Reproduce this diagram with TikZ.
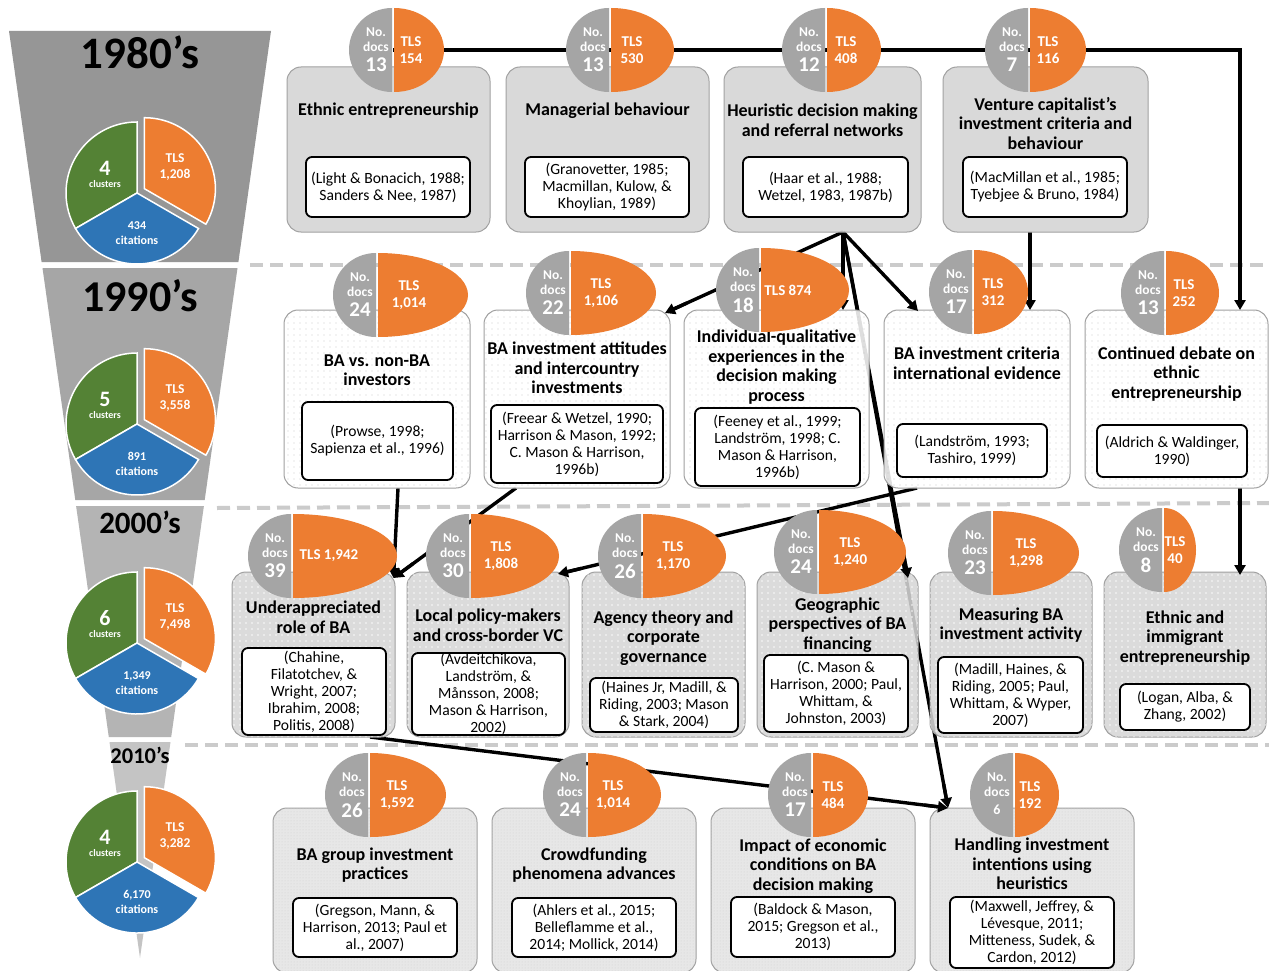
\documentclass[tikz,border=0pt]{standalone}
\usepackage{fontspec}
\setmainfont{Carlito}
\usetikzlibrary{calc,arrows.meta,patterns.meta}
\pgfdeclarelayer{bg}
\pgfdeclarelayer{lines}
\pgfdeclarelayer{tips}
\pgfdeclarelayer{badges}
\pgfsetlayers{bg,lines,main,tips,badges}
\definecolor{borange}{HTML}{ED7D31}
\definecolor{bgray}{HTML}{A5A5A5}
\definecolor{pgreen}{HTML}{548235}
\definecolor{pblue}{HTML}{2E75B6}
\definecolor{funA}{HTML}{969696}
\definecolor{funB}{HTML}{A6A6A6}
\definecolor{funC}{HTML}{B4B4B4}
\definecolor{funD}{HTML}{C4C4C4}
\definecolor{sepcol}{HTML}{CBCBCB}
\definecolor{boxedge}{HTML}{A0A0A0}
\definecolor{rowone}{HTML}{D6D6D6}
\definecolor{rowthree}{HTML}{D6D6D6}
\definecolor{rowfour}{HTML}{E4E4E4}
\definecolor{dotgray}{HTML}{C4C4C4}
\definecolor{dotfour}{HTML}{CDCDCD}
\definecolor{dotone}{HTML}{C8C8C8}

\newcommand\badge[8]{%
  \coordinate (#1) at (#2,#3);
  \fill[bgray] ($(#1)+(-1,-42)$) arc[start angle=90,end angle=270,x radius=43pt,y radius=42pt] -- cycle;
  \fill[borange] ($(#1)+(1,-42)$) arc[start angle=90,end angle=-90,x radius=#4pt,y radius=42pt] -- cycle;
  \node[bsmall] (#1-no) at ($(#1)+(-17,-18)$) {No.};
  \node[bsmall] (#1-docs) at ($(#1)+(-17,-3)$) {docs};
  \node[bnum, font=\bfseries\fontsize{#8}{#8}\selectfont] (#1-n) at ($(#1)+(-17,15)$) {#5};
  \node[btls] (#1-tls) at ($(#1)+(#7,0)$) {#6};
}
\newcommand\pie[5]{%
  \coordinate (#1) at (137,#2);
  \fill[pgreen,draw=white,line width=1.5pt] (#1) -- ($(#1)+(0,-71)$) arc[start angle=90,end angle=210,radius=71pt] -- cycle;
  \fill[pblue,draw=white,line width=1.5pt] (#1) -- ($(#1)+(-61.49,35.5)$) arc[start angle=210,end angle=330,radius=71pt] -- cycle;
  \coordinate (#1-o) at ($(#1)+(7.4,-4.3)$);
  \fill[borange,draw=white,line width=1.5pt] (#1-o) -- ($(#1-o)+(61.49,35.5)$) arc[start angle=-30,end angle=90,radius=71pt] -- cycle;
  \node[pnum] (#1-a) at ($(#1)+(-32,-25)$) {#3};
  \node[psm] (#1-b) at ($(#1)+(-32,-9)$) {clusters};
  \node[ptls] (#1-c) at ($(#1)+(38,-26)$) {TLS\\#4};
  \node[pcit] (#1-d) at ($(#1)+(0,40)$) {#5\\citations};
}

\begin{document}
\begin{tikzpicture}[x=1pt,y=-1pt,
  every node/.style={inner sep=0pt,outer sep=0pt},
  bsmall/.style={text=white,font=\bfseries\fontsize{13.5}{14}\selectfont},
  bnum/.style={text=white},
  btls/.style={text=white,font=\bfseries\fontsize{15}{17}\selectfont,align=center},
  pnum/.style={text=white,font=\bfseries\fontsize{22}{22}\selectfont},
  psm/.style={text=white,font=\bfseries\fontsize{10}{10}\selectfont},
  ptls/.style={text=white,font=\bfseries\fontsize{13.5}{16}\selectfont,align=center},
  pcit/.style={text=white,font=\bfseries\fontsize{12}{15}\selectfont,align=center},
  decade/.style={text=black,font=\bfseries\fontsize{#1}{#1}\selectfont},
  sep/.style={sepcol,line width=4pt,dash pattern=on 13pt off 7pt},
  boxbase/.style={draw=boxedge,line width=1pt,rounded corners=14pt,fill opacity=0.87},
  boxone/.style={boxbase,fill=rowone,postaction={pattern={Dots[distance=2pt,radius=0.4pt]},pattern color=dotone}},
  boxtwo/.style={boxbase,fill=white,postaction={pattern={Dots[distance=6pt,radius=0.7pt]},pattern color=dotgray}},
  boxthree/.style={boxbase,fill=rowthree,postaction={pattern={Dots[distance=6pt,radius=0.8pt]},pattern color=white}},
  boxfour/.style={boxbase,fill=rowfour,postaction={pattern={Dots[distance=3pt,radius=0.5pt]},pattern color=dotfour}},
  ttl/.style={text=black,font=\bfseries\fontsize{18}{19.5}\selectfont,align=center},
  refb/.style={draw=black,line width=1.8pt,rounded corners=6pt,fill=white,text=black,font=\fontsize{15.6}{17}\selectfont,align=center},
  conn/.style={line width=3.4pt,black},
  connbg/.style={conn,shorten >=9pt},
  conntip/.style={conn,-{Triangle[length=10pt,width=11pt]}}
]
\useasboundingbox (0,0) rectangle (1269,971);
\begin{pgfonlayer}{bg}
\fill[white] (0,0) rectangle (1269,971);
\fill[funA] (9,31) -- (271,31) -- (238.4,262) -- (41.6,262) -- cycle;
\fill[funB] (42.5,268) -- (237.5,268) -- (204.7,500) -- (75.3,500) -- cycle;
\fill[funC] (76.1,506) -- (203.9,506) -- (171.2,737) -- (108.8,737) -- cycle;
\fill[funD] (109.5,742) -- (170.5,742) -- (140,958) -- cycle;
\draw[sep] (250,265) -- (1269,265);
\draw[sep] (217,508) -- (1269,503);
\draw[sep] (185,745) -- (1269,745);
\end{pgfonlayer}

% decades and pies
\node[decade=45] (d80) at (140,52) {1980’s};
\node[decade=44] (d90) at (140,296) {1990’s};
\node[decade=31] (d00) at (140,522) {2000’s};
\node[decade=22.5] (d10) at (140,755) {2010’s};
\pie{pA}{193}{4}{1,208}{434}
\pie{pB}{424}{5}{3,558}{891}
\pie{pC}{643}{6}{7,498}{1,349}
\pie{pD}{862}{4}{3,282}{6,170}

% row 1
\node[boxone,minimum width=203pt,minimum height=165pt] (cA) at (388.5,149.5) {};
\node[boxone,minimum width=203pt,minimum height=165pt] (cB) at (607.5,149.5) {};
\node[boxone,minimum width=197pt,minimum height=165pt] (cC) at (822.5,149.5) {};
\node[boxone,minimum width=205pt,minimum height=165pt] (cD) at (1045.5,149.5) {};
\node[ttl] (hA) at (388.5,111) {Ethnic entrepreneurship};
\node[ttl] (hB) at (607.5,111) {Managerial behaviour};
\node[ttl] (hC) at (822.5,120) {Heuristic decision making\\and referral networks};
\node[ttl] (hD) at (1045.5,123.5) {Venture capitalist’s\\investment criteria and\\behaviour};
\node[refb,minimum width=164pt,minimum height=60pt] (rA) at (388,187) {(Light \& Bonacich, 1988;\\Sanders \& Nee, 1987)};
\node[refb,minimum width=164pt,minimum height=60pt] (rB) at (607,187) {(Granovetter, 1985;\\Macmillan, Kulow, \&\\Khoylian, 1989)};
\node[refb,minimum width=165pt,minimum height=60pt] (rC) at (825.5,187) {(Haar et al., 1988;\\Wetzel, 1983, 1987b)};
\node[refb,minimum width=164pt,minimum height=60pt] (rD) at (1045,187) {(MacMillan et al., 1985;\\Tyebjee \& Bruno, 1984)};

% row 2
\node[boxtwo,minimum width=186pt,minimum height=178pt] (cA2) at (377,399) {};
\node[boxtwo,minimum width=186pt,minimum height=178pt] (cB2) at (577,399) {};
\node[boxtwo,minimum width=185pt,minimum height=178pt] (cC2) at (776.5,399) {};
\node[boxtwo,minimum width=186pt,minimum height=178pt] (cD2) at (977,399) {};
\node[boxtwo,minimum width=183pt,minimum height=178pt] (cE2) at (1176.5,399) {};
\node[ttl] (hA2) at (377,370) {BA vs. non-BA\\investors};
\node[ttl] (hB2) at (577,368) {BA investment attitudes\\and intercountry\\investments};
\node[ttl] (hC2) at (776.5,367) {Individual-qualitative\\experiences in the\\decision making\\process};
\node[ttl] (hD2) at (977,363) {BA investment criteria\\international evidence};
\node[ttl] (hE2) at (1176.5,374) {Continued debate on\\ethnic\\entrepreneurship};
\node[refb,minimum width=151pt,minimum height=78pt] (rA2) at (377.5,441) {(Prowse, 1998;\\Sapienza et al., 1996)};
\node[refb,minimum width=172pt,minimum height=78pt] (rB2) at (577,444) {(Freear \& Wetzel, 1990;\\Harrison \& Mason, 1992;\\C. Mason \& Harrison,\\1996b)};
\node[refb,minimum width=165pt,minimum height=78pt] (rC2) at (777.5,447) {(Feeney et al., 1999;\\Landström, 1998; C.\\Mason \& Harrison,\\1996b)};
\node[refb,minimum width=150pt,minimum height=53pt] (rD2) at (972,450.5) {(Landström, 1993;\\Tashiro, 1999)};
\node[refb,minimum width=150pt,minimum height=52pt] (rE2) at (1172,451) {(Aldrich \& Waldinger,\\1990)};

% row 3
\node[boxthree,minimum width=163pt,minimum height=165pt] (cA3) at (313.5,654.5) {};
\node[boxthree,minimum width=162pt,minimum height=165pt] (cB3) at (488,654.5) {};
\node[boxthree,minimum width=163pt,minimum height=165pt] (cC3) at (663.5,654.5) {};
\node[boxthree,minimum width=161pt,minimum height=165pt] (cD3) at (837.5,654.5) {};
\node[boxthree,minimum width=162pt,minimum height=165pt] (cE3) at (1011,654.5) {};
\node[boxthree,minimum width=162pt,minimum height=165pt] (cF3) at (1185,654.5) {};
\node[ttl] (hA3) at (313.5,617) {Underappreciated\\role of BA};
\node[ttl] (hB3) at (488,625) {Local policy-makers\\and cross-border VC};
\node[ttl] (hC3) at (663.5,638) {Agency theory and\\corporate\\governance};
\node[ttl] (hD3) at (837.5,625) {Geographic\\perspectives of BA\\financing};
\node[ttl] (hE3) at (1011,625) {Measuring BA\\investment activity};
\node[ttl] (hF3) at (1185,638) {Ethnic and\\immigrant\\entrepreneurship};
\node[refb,minimum width=144pt,minimum height=87pt] (rA3) at (314,691.5) {(Chahine,\\Filatotchev, \&\\Wright, 2007;\\Ibrahim, 2008;\\Politis, 2008)};
\node[refb,minimum width=153pt,minimum height=82pt] (rB3) at (488.5,694) {(Avdeitchikova,\\Landström, \&\\Månsson, 2008;\\Mason \& Harrison,\\2002)};
\node[refb,minimum width=148pt,minimum height=54pt] (rC3) at (664,705) {(Haines Jr, Madill, \&\\Riding, 2003; Mason\\\& Stark, 2004)};
\node[refb,minimum width=144pt,minimum height=77pt] (rD3) at (836,693.5) {(C. Mason \&\\Harrison, 2000; Paul,\\Whittam, \&\\Johnston, 2003)};
\node[refb,minimum width=145pt,minimum height=76pt] (rE3) at (1010.5,695) {(Madill, Haines, \&\\Riding, 2005; Paul,\\Whittam, \& Wyper,\\2007)};
\node[refb,minimum width=130pt,minimum height=46pt] (rF3) at (1185,707) {(Logan, Alba, \&\\Zhang, 2002)};

% row 4
\node[boxfour,minimum width=204pt,minimum height=165pt] (cA4) at (375,890.5) {};
\node[boxfour,minimum width=204pt,minimum height=165pt] (cB4) at (594,890.5) {};
\node[boxfour,minimum width=204pt,minimum height=165pt] (cC4) at (813,890.5) {};
\node[boxfour,minimum width=204pt,minimum height=165pt] (cD4) at (1032,890.5) {};
\node[ttl] (hA4) at (375,865) {BA group investment\\practices};
\node[ttl] (hB4) at (594,865) {Crowdfunding\\phenomena advances};
\node[ttl] (hC4) at (813,866) {Impact of economic\\conditions on BA\\decision making};
\node[ttl] (hD4) at (1032,864) {Handling investment\\intentions using\\heuristics};
\node[refb,minimum width=164pt,minimum height=59pt] (rA4) at (375,927.5) {(Gregson, Mann, \&\\Harrison, 2013; Paul et\\al., 2007)};
\node[refb,minimum width=164pt,minimum height=59pt] (rB4) at (594,927.5) {(Ahlers et al., 2015;\\Belleflamme et al.,\\2014; Mollick, 2014)};
\node[refb,minimum width=164pt,minimum height=60pt] (rC4) at (813,927) {(Baldock \& Mason,\\2015; Gregson et al.,\\2013)};
\node[refb,minimum width=164pt,minimum height=71pt] (rD4) at (1032,932.5) {(Maxwell, Jeffrey, \&\\Lévesque, 2011;\\Mitteness, Sudek, \&\\Cardon, 2012)};

% badges
\begin{pgfonlayer}{badges}
\badge{bA}{393}{50}{50}{13}{TLS\\154}{18}{21}
\badge{bB}{610}{50}{63}{13}{TLS\\530}{22}{21}
\badge{bC}{826}{50}{54}{12}{TLS\\408}{20}{21}
\badge{bD}{1029}{50}{56}{7}{TLS\\116}{19}{21}
\badge{bA2}{377}{295}{90}{24}{TLS\\1,014}{32}{21}
\badge{bB2}{570}{293}{85}{22}{TLS\\1,106}{31}{21}
\badge{bC2}{760}{290}{88}{18}{TLS 874}{28}{21}
\badge{bD2}{973}{292}{54}{17}{TLS\\312}{20}{21}
\badge{bE2}{1165}{293}{53}{13}{TLS\\252}{19}{21}
\badge{bA3}{292}{556}{104}{39}{TLS 1,942}{37}{21}
\badge{bB3}{470}{556}{88}{30}{TLS\\1,808}{31}{21}
\badge{bC3}{642}{556}{83}{26}{TLS\\1,170}{31}{21}
\badge{bD3}{818}{552}{87}{24}{TLS\\1,240}{32}{21}
\badge{bE3}{992}{553}{86}{23}{TLS\\1,298}{34}{21}
\badge{bF3}{1163}{550}{32}{8}{TLS\\40}{12}{21}
\badge{bA4}{369}{795}{76}{26}{TLS\\1,592}{28}{21}
\badge{bB4}{587}{795}{73}{24}{TLS\\1,014}{26}{21}
\badge{bC4}{812}{795}{55}{17}{TLS\\484}{21}{21}
\badge{bD4}{1014}{795}{44}{6}{TLS\\192}{16}{14}
\end{pgfonlayer}

% connector end points
\coordinate (outC) at ([xshift=20.5pt]cC.south);
\coordinate (outD) at ([xshift=-15.5pt]cD.south);
\coordinate (inE2) at ([xshift=63.5pt]cE2.north);
\coordinate (cornerE) at (inE2 |- bD);
\coordinate (inD2a) at ([xshift=53pt]cD2.north);
\coordinate (inB2) at ([xshift=88pt,yshift=-3pt]cB2.north);
\coordinate (inC2) at ([xshift=66.5pt]cC2.north);
\coordinate (inD2b) at ([xshift=-59pt,yshift=-1pt]cD2.north);
\coordinate (inD3) at ([xshift=70.5pt,yshift=-6pt]cD3.north);
\coordinate (inD4) at ([xshift=-84pt]cD4.north);
\coordinate (outA2) at ([xshift=21pt]cA2.south);
\coordinate (outB2) at ([xshift=-61pt]cB2.south);
\coordinate (inA3) at ([xshift=80pt,yshift=-6pt]cA3.north);
\coordinate (outD2) at ([xshift=-60pt]cD2.south);
\coordinate (inB3) at ([xshift=70pt,yshift=-2pt]cB3.north);
\coordinate (outE2) at ([xshift=63.5pt]cE2.south);
\coordinate (inF3) at ([xshift=55pt,yshift=-3pt]cF3.north);
\coordinate (outA3) at ([xshift=56.5pt]cA3.south);

\begin{pgfonlayer}{lines}
\draw[connbg] (bA) -- (bD) -- (cornerE) -- (inE2);
\draw[connbg] (outD) -- (inD2a);
\draw[connbg] (outC) -- (inB2);
\draw[connbg] (outC) -- (inC2);
\draw[connbg] (outC) -- (inD2b);
\draw[connbg] (outC) -- (inD3);
\draw[connbg] (outC) -- (inD4);
\draw[connbg] (outA2) -- (inA3);
\draw[connbg] (outB2) -- (inA3);
\draw[connbg] (outD2) -- (inB3);
\draw[connbg] (outE2) -- (inF3);
\draw[connbg] (outA3) -- (inD4);
\end{pgfonlayer}
\begin{pgfonlayer}{tips}
\draw[conntip] ($(inE2)!24pt!(cornerE)$) -- (inE2);
\draw[conntip] ($(inD2a)!24pt!(outD)$) -- (inD2a);
\draw[conntip] ($(inB2)!24pt!(outC)$) -- (inB2);
\draw[conntip] ($(inC2)!24pt!(outC)$) -- (inC2);
\draw[conntip] ($(inD2b)!24pt!(outC)$) -- (inD2b);
\draw[conntip] ($(inD3)!24pt!(outC)$) -- (inD3);
\draw[conntip] ($(inD4)!24pt!(outC)$) -- (inD4);
\draw[conntip] ($(inA3)!24pt!(outA2)$) -- (inA3);
\draw[conntip] ($(inA3)!24pt!(outB2)$) -- (inA3);
\draw[conntip] ($(inB3)!24pt!(outD2)$) -- (inB3);
\draw[conntip] ($(inF3)!24pt!(outE2)$) -- (inF3);
\draw[conntip] ($(inD4)!24pt!(outA3)$) -- (inD4);
\end{pgfonlayer}
\end{tikzpicture}
\end{document}
